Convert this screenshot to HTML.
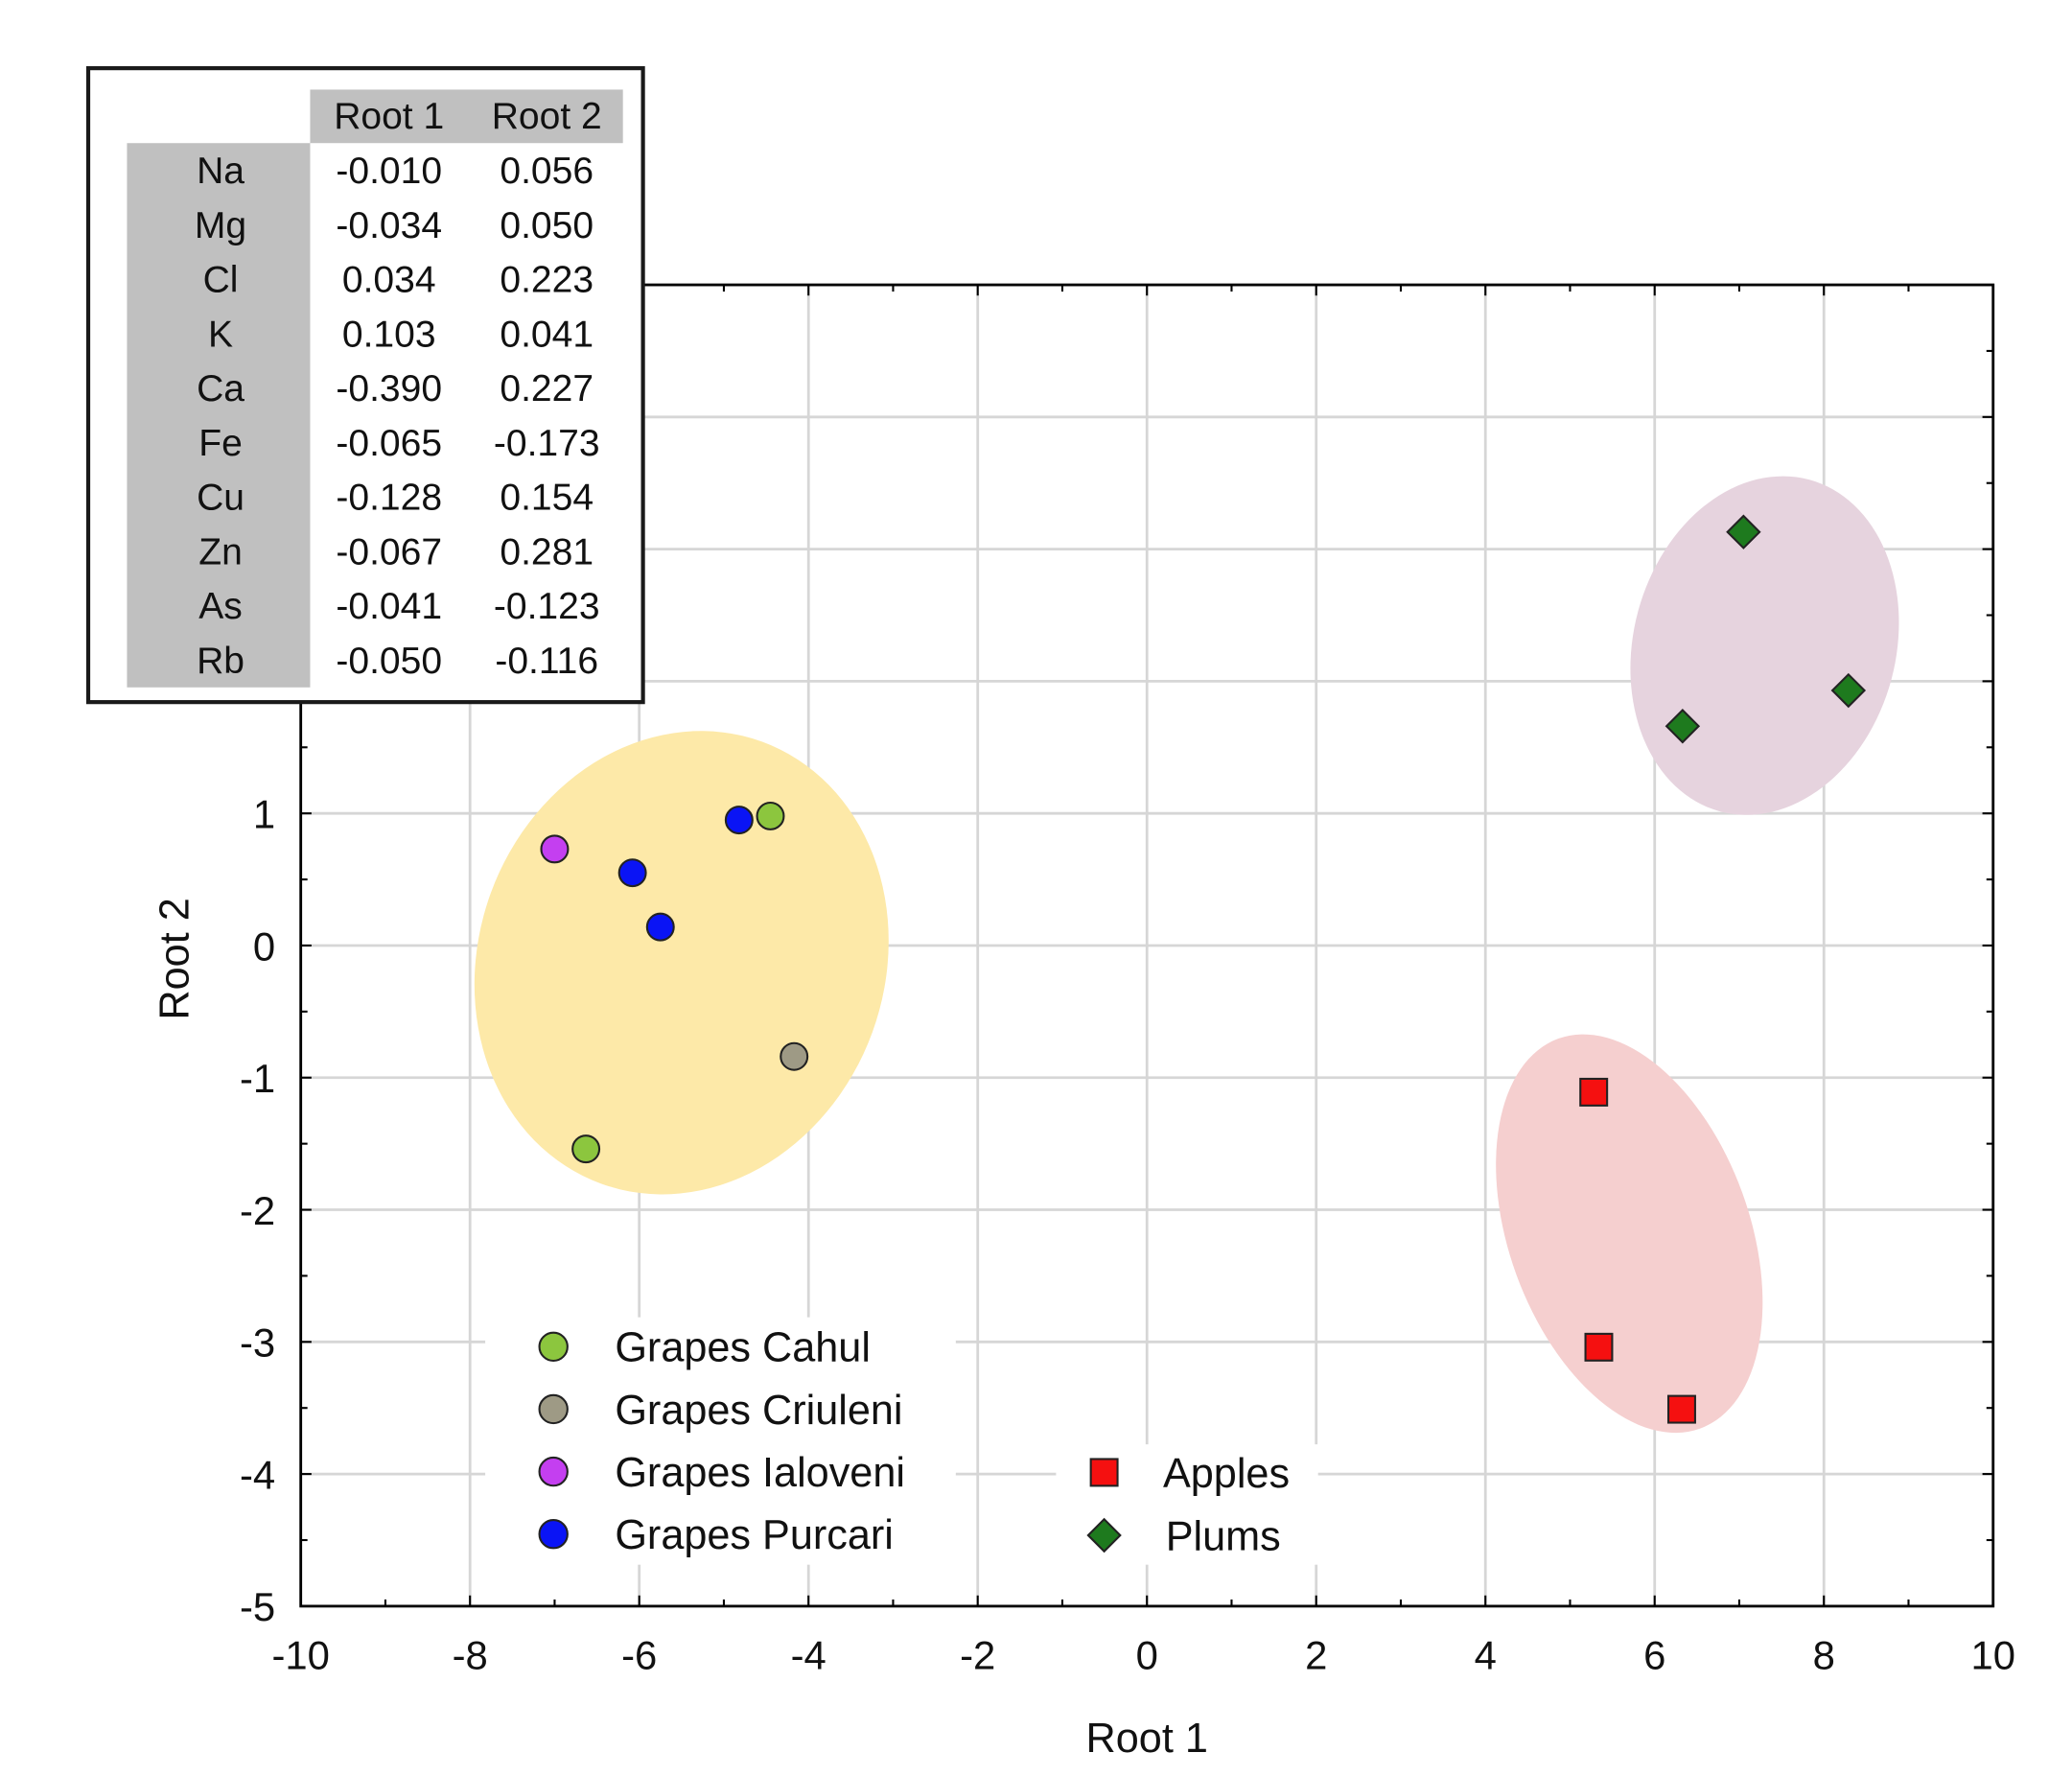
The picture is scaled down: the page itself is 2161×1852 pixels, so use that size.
<!DOCTYPE html>
<html><head><meta charset="utf-8"><style>
html,body{margin:0;padding:0;background:#fff;}
svg{display:block;font-family:"Liberation Sans",Arial,sans-serif;}
</style></head><body>
<svg id="chart" width="2161" height="1852" viewBox="0 0 1550 1328" preserveAspectRatio="none" xmlns="http://www.w3.org/2000/svg">
<g id="grid"></g>
<g id="ellipses"></g>
<g id="legend"></g>
<g id="points"></g>
<g id="axes"></g>
<g id="table"></g>
</svg>
<script>
const xTicks=[-10,-8,-6,-4,-2,0,2,4,6,8,10];
const yTicks=[-5,-4,-3,-2,-1,0,1,2,3,4,5];
const cahulX=[-4.45,-6.63], cahulY=[0.98,-1.54];
const criuleniX=[-4.17], criuleniY=[-0.84];
const ialoveniX=[-7.0], ialoveniY=[0.73];
const purcariX=[-4.82,-6.08,-5.75], purcariY=[0.95,0.55,0.14];
const applesX=[5.28,5.34,6.32], applesY=[-1.11,-3.04,-3.51];
const plumsX=[7.05,8.29,6.33], plumsY=[3.13,1.93,1.66];
const elements=["Na","Mg","Cl","K","Ca","Fe","Cu","Zn","As","Rb"];
const root1=["-0.010","-0.034","0.034","0.103","-0.390","-0.065","-0.128","-0.067","-0.041","-0.050"];
const root2=["0.056","0.050","0.223","0.041","0.227","-0.173","0.154","0.281","-0.123","-0.116"];
// ellipse: cx, cy, rx, ry (data units), rotation deg
const ellGrapes=[-5.5,-0.13,2.4,1.78,20];
const ellPlums=[7.3,2.27,1.55,1.3,15];
const ellApples=[5.7,-2.18,1.42,1.57,-20];

const L=225,R=1491,T=213,B=1201;
const sx=v=>L+(v+10)/20*(R-L);
const sy=v=>B-(v+5)/10*(B-T);
const NS="http://www.w3.org/2000/svg";
function mk(tag,attrs,parent,text){const e=document.createElementNS(NS,tag);for(const k in attrs)e.setAttribute(k,attrs[k]);if(text!==undefined)e.textContent=text;parent.appendChild(e);return e;}
const grid=document.getElementById('grid'),axes=document.getElementById('axes');
xTicks.forEach(v=>{const l=mk('line',{x1:sx(v),x2:sx(v),y1:T,y2:B,stroke:'#d6d6d6','stroke-width':2},grid);

const t=mk('text',{x:sx(v),y:1248,'font-size':30,'text-anchor':'middle',fill:'#111'},axes,String(v));
});
yTicks.forEach(v=>{const l=mk('line',{x1:L,x2:R,y1:sy(v),y2:sy(v),stroke:'#d6d6d6','stroke-width':2},grid);

const t=mk('text',{x:206,y:sy(v)+11,'font-size':30,'text-anchor':'end',fill:'#111'},axes,String(v));
});
for(let v=-10;v<=10;v+=1){const big=v%2===0;
mk('line',{x1:sx(v),x2:sx(v),y1:B,y2:B-(big?8:5),stroke:'#000','stroke-width':1.5},axes);
mk('line',{x1:sx(v),x2:sx(v),y1:T,y2:T+(big?8:5),stroke:'#000','stroke-width':1.5},axes);}
for(let v=-5;v<=5;v+=0.5){const big=Number.isInteger(v);
mk('line',{x1:L,x2:L+(big?8:5),y1:sy(v),y2:sy(v),stroke:'#000','stroke-width':1.5},axes);
mk('line',{x1:R,x2:R-(big?8:5),y1:sy(v),y2:sy(v),stroke:'#000','stroke-width':1.5},axes);}
const fr=mk('rect',{x:L,y:T,width:R-L,height:B-T,fill:'none',stroke:'#000','stroke-width':2},axes);

const xt=mk('text',{x:858,y:1310,'font-size':31,'text-anchor':'middle',fill:'#111'},axes,'Root 1');

const yt=mk('text',{x:0,y:0,'font-size':31,'text-anchor':'middle',fill:'#111',transform:'translate(141,717) rotate(-90)'},axes,'Root 2');


const eg=document.getElementById('ellipses');
[[ellGrapes,'#fde9a8','ellipse-grapes'],[ellPlums,'#e6d3de','ellipse-plums'],[ellApples,'#f5cfcf','ellipse-apples']].forEach(([e,c,n])=>{
const cx=sx(e[0]),cy=sy(e[1]),rx=e[2]*(R-L)/20,ry=e[3]*(B-T)/10;
const el=mk('ellipse',{cx,cy,rx,ry,fill:c,transform:`rotate(${e[4]} ${cx} ${cy})`},eg);
});

const pg=document.getElementById('points');
function circles(xs,ys,c,n){xs.forEach((x,i)=>{const p=mk('circle',{cx:sx(x),cy:sy(ys[i]),r:10,fill:c,stroke:'#222','stroke-width':1.5},pg);
});}
circles(cahulX,cahulY,'#8cc63e','point-grapes-cahul');
circles(criuleniX,criuleniY,'#9e9a85','point-grapes-criuleni');
circles(ialoveniX,ialoveniY,'#c43ff0','point-grapes-ialoveni');
circles(purcariX,purcariY,'#0a14f5','point-grapes-purcari');
applesX.forEach((x,i)=>{const p=mk('rect',{x:sx(x)-10,y:sy(applesY[i])-10,width:20,height:20,fill:'#f51010',stroke:'#222','stroke-width':1.5},pg);
});
plumsX.forEach((x,i)=>{const cx=sx(x),cy=sy(plumsY[i]);const p=mk('polygon',{points:`${cx},${cy-12} ${cx+12},${cy} ${cx},${cy+12} ${cx-12},${cy}`,fill:'#1e7a1e',stroke:'#222','stroke-width':1.5},pg);
});

const lg=document.getElementById('legend');
mk('rect',{x:363,y:985,width:352,height:185,fill:'#fff'},lg);
mk('rect',{x:790,y:1080,width:196,height:90,fill:'#fff'},lg);
const circ=[['Grapes Cahul','#8cc63e'],['Grapes Criuleni','#9e9a85'],['Grapes Ialoveni','#c43ff0'],['Grapes Purcari','#0a14f5']];
circ.forEach(([n,c],i)=>{const y=1007+i*46.7;
const m=mk('circle',{cx:414,cy:y,r:10.5,fill:c,stroke:'#222','stroke-width':1.5},lg);

const t=mk('text',{x:460,y:y+11,'font-size':31,fill:'#111'},lg,n);
});
const am=mk('rect',{x:816,y:1091,width:20,height:20,fill:'#f51010',stroke:'#222','stroke-width':1.5},lg);

const at=mk('text',{x:870,y:1112,'font-size':31,fill:'#111'},lg,'Apples');

const pm=mk('polygon',{points:'826,1136 838,1148 826,1160 814,1148',fill:'#1e7a1e',stroke:'#222','stroke-width':1.5},lg);

const pt=mk('text',{x:872,y:1159,'font-size':31,fill:'#111'},lg,'Plums');


const tg=document.getElementById('table');
mk('rect',{x:66,y:51,width:415,height:474,fill:'#fff',stroke:'#1a1a1a','stroke-width':3},tg);
mk('rect',{x:232,y:67,width:234,height:40,fill:'#c0c0c0'},tg);
mk('rect',{x:95,y:107,width:137,height:407,fill:'#c0c0c0'},tg);
const h1=mk('text',{x:291,y:96,'font-size':28,'text-anchor':'middle',fill:'#111'},tg,'Root 1');

const h2=mk('text',{x:409,y:96,'font-size':28,'text-anchor':'middle',fill:'#111'},tg,'Root 2');

elements.forEach((e,i)=>{const y=137+i*40.7;
const a=mk('text',{x:165,y,'font-size':28,'text-anchor':'middle',fill:'#111'},tg,e);

const b=mk('text',{x:291,y,'font-size':28,'text-anchor':'middle',fill:'#111'},tg,root1[i]);

const c=mk('text',{x:409,y,'font-size':28,'text-anchor':'middle',fill:'#111'},tg,root2[i]);
});
</script>
</body></html>
